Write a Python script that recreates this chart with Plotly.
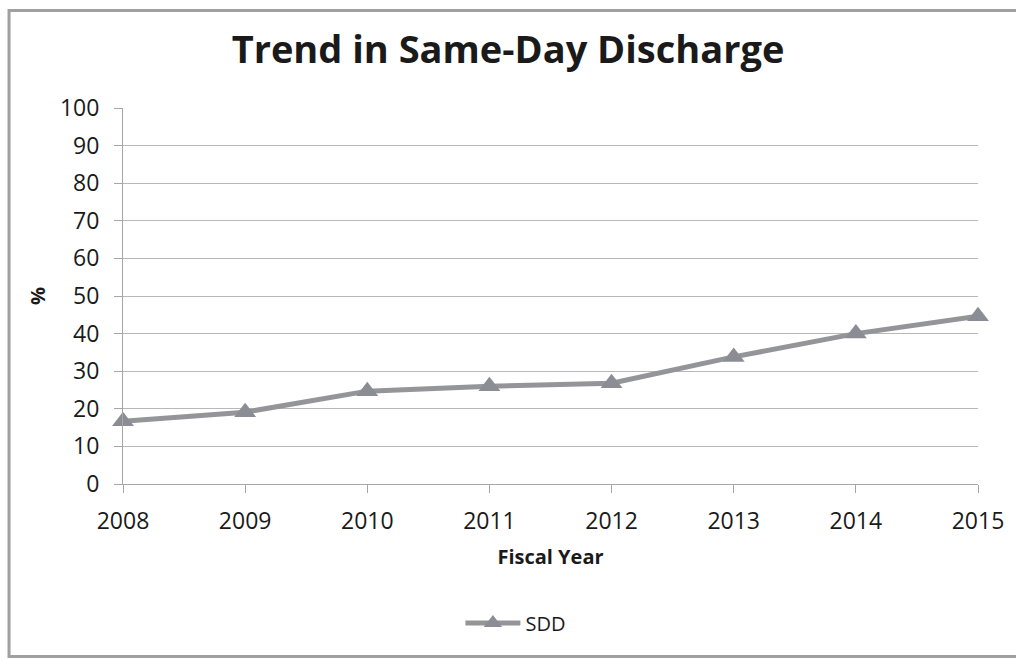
import plotly.graph_objects as go

# Fiscal years and same-day discharge rate (%)
years = [2008, 2009, 2010, 2011, 2012, 2013, 2014, 2015]
sdd_pct = [16.7, 19.1, 24.7, 26.0, 26.8, 33.8, 40.0, 44.6]
y_ticks = list(range(0, 101, 10))

W, H = 1016, 660
L, R, T, B = 123, 34, 108, 176
pw, ph = W - L - R, H - T - B


def px_x(x):
    return (x - L) / pw


def px_y(y):
    return (H - B - y) / ph


font = "Open Sans"
axis_col = "#a6a6a6"
frame_col = "#a0a0a0"

fig = go.Figure()
fig.add_trace(go.Scatter(
    x=years, y=sdd_pct, name="SDD", mode="lines+markers",
    line=dict(color="#939598", width=5),
    marker=dict(symbol="triangle-up", size=19, color="#8a8e94"),
    cliponaxis=False,
))

# outer frame, open on the right: one open path top -> left -> bottom
fl, fr, ft, fb = px_x(8.5), px_x(1060), px_y(10.5), px_y(656.5)
frame_path = f"M {fr},{ft} L {fl},{ft} L {fl},{fb} L {fr},{fb}"
shapes = [dict(type="path", xref="paper", yref="paper", path=frame_path,
               fillcolor="rgba(0,0,0,0)",
               line=dict(color=frame_col, width=3), layer="below")]

fig.update_layout(
    width=W, height=H,
    margin=dict(l=L, r=R, t=T, b=B),
    paper_bgcolor="white", plot_bgcolor="white",
    font=dict(family=font, size=23, color="#1a1a1a"),
    title=dict(text="<b>Trend in Same-Day Discharge</b>",
               x=0.5, xanchor="center", y=1 - 50 / H, yanchor="middle",
               font=dict(family=font, size=38, color="#1a1a1a")),
    xaxis=dict(range=[2008, 2015], tickvals=years, ticktext=[str(y) for y in years],
               showgrid=False, showline=True, linecolor=axis_col, linewidth=1,
               ticks="outside", ticklen=8, tickcolor=axis_col, ticklabelstandoff=8,
               title=dict(text="<b>Fiscal Year</b>", font=dict(size=20), standoff=15),
               zeroline=False, fixedrange=True),
    yaxis=dict(range=[0, 100], tickvals=y_ticks,
               showgrid=True, gridcolor="#b8b8b8", gridwidth=1,
               showline=True, linecolor=axis_col, linewidth=1,
               ticks="outside", ticklen=8, tickcolor=axis_col, ticklabelstandoff=10,
               title=dict(text="<b>%</b>", font=dict(size=20), standoff=8),
               zeroline=False, fixedrange=True),
    showlegend=True,
    legend=dict(orientation="h", x=px_x(462), xanchor="left",
                y=px_y(623), yanchor="middle", itemwidth=55,
                font=dict(size=20), bgcolor="rgba(0,0,0,0)"),
    shapes=shapes,
)

fig.write_html("out.html")
